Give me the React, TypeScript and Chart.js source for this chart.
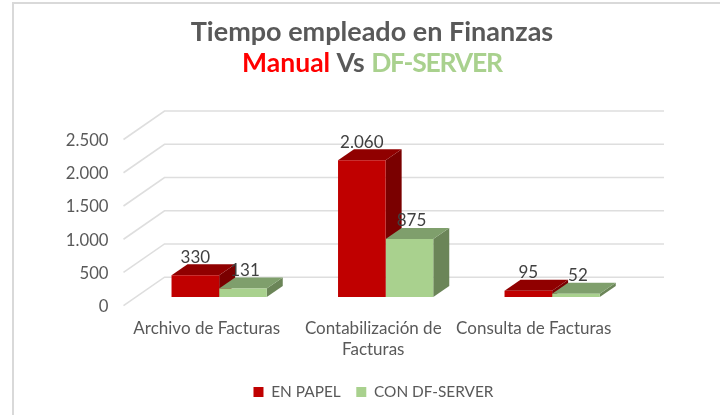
import React, { useEffect, useRef } from "react";
import { Chart, registerables } from "chart.js";

Chart.register(...registerables);

const categories = [["Archivo de Facturas"], ["Contabilización de", "Facturas"], ["Consulta de Facturas"]];
const enPapel = [330, 2060, 95];
const conDfServer = [131, 875, 52];
const valueTicks = [0, 500, 1000, 1500, 2000, 2500];

const FONT = "Lato, 'Open Sans', sans-serif";
const TEXT = "#595959";
const GRID = "#dedede";
const RED = { front: "#c00000", top: "#900000", side: "#7a0000" };
const GREEN = { front: "#a9d18e", top: "#7f9f6c", side: "#6b8558" };

// wall depth (plot front plane to back wall) and bar depth
const WALL = { dx: 41, dy: -28.5 };
const BAR_SHIFT = { dx: 12.4, dy: -8.6 };
const BAR_DEPTH = { dx: 16, dy: -11 };
const LEGEND_SHIFT = 62;
const LAST_LABEL_NUDGE = -6;
const Y_LABEL_NUDGE = 1;
const VALUE_LABEL_NUDGE = [0, 2];

const fmt = (v: number) => String(v).replace(/\B(?=(\d{3})+$)/g, ".");

function poly(ctx: CanvasRenderingContext2D, pts: number[][], fill: string) {
  ctx.fillStyle = fill;
  ctx.beginPath();
  pts.forEach((p, i) => (i ? ctx.lineTo(p[0], p[1]) : ctx.moveTo(p[0], p[1])));
  ctx.closePath();
  ctx.fill();
}

const scene = {
  id: "scene",
  afterLayout(chart: any) {
    chart.legend.left += LEGEND_SHIFT;
    chart.legend.right += LEGEND_SHIFT;
  },
  beforeDraw(chart: any) {
    const { ctx, width, height, chartArea: a, scales } = chart;
    const items = scales.x.getLabelItems(a);
    const last = items[items.length - 1];
    last.options.translation[0] = scales.x.getPixelForTick(items.length - 1) + LAST_LABEL_NUDGE;
    scales.y.getLabelItems(a).forEach((item: any, i: number) => {
      item.options.translation[1] = scales.y.getPixelForTick(i) + Y_LABEL_NUDGE;
    });
    ctx.save();
    ctx.fillStyle = "#fff";
    ctx.fillRect(0, 0, width, height);
    // chart frame
    ctx.strokeStyle = "#d9d9d9";
    ctx.lineWidth = 2;
    ctx.beginPath();
    ctx.moveTo(13, height);
    ctx.lineTo(13, 3);
    ctx.lineTo(width, 3);
    ctx.stroke();
    // walls
    ctx.strokeStyle = GRID;
    ctx.lineWidth = 1.6;
    valueTicks.forEach((v) => {
      const y = scales.y.getPixelForValue(v);
      ctx.beginPath();
      ctx.moveTo(a.left, y);
      ctx.lineTo(a.left + WALL.dx, y + WALL.dy);
      ctx.lineTo(a.right + WALL.dx, y + WALL.dy);
      ctx.stroke();
    });
    // title
    ctx.textBaseline = "middle";
    ctx.textAlign = "left";
    ctx.font = `bold 27px ${FONT}`;
    const cx = 372;
    const first = "Tiempo empleado en Finanzas";
    ctx.fillStyle = TEXT;
    ctx.fillText(first, cx - ctx.measureText(first).width / 2, 32);
    ctx.font = `bold 26.5px ${FONT}`;
    const parts: [string, string, string][] = [
      ["Manual", "#ff0000", "0px"],
      [" Vs ", TEXT, "0px"],
      ["DF-SERVER", GREEN.front, "-1.2px"],
    ];
    const widthOf = (p: [string, string, string]) => {
      (ctx as any).letterSpacing = p[2];
      return ctx.measureText(p[0]).width;
    };
    const total = parts.reduce((s, p) => s + widthOf(p), 0);
    let x = cx - total / 2;
    parts.forEach((p) => {
      const w = widthOf(p);
      ctx.fillStyle = p[1];
      ctx.fillText(p[0], x, 63);
      x += w;
    });
    (ctx as any).letterSpacing = "0px";
    ctx.restore();
  },
  beforeDatasetsDraw(chart: any) {
    const { ctx } = chart;
    ctx.save();
    ctx.translate(BAR_SHIFT.dx, BAR_SHIFT.dy);
    const d = BAR_DEPTH;
    categories.forEach((_, i) => {
      [RED, GREEN].forEach((c, ds) => {
        const b = chart.getDatasetMeta(ds).data[i];
        const l = b.x - b.width / 2;
        const r = b.x + b.width / 2;
        poly(ctx, [[r, b.y], [r + d.dx, b.y + d.dy], [r + d.dx, b.base + d.dy], [r, b.base]], c.side);
        poly(ctx, [[l, b.y], [l + d.dx, b.y + d.dy], [r + d.dx, b.y + d.dy], [r, b.y]], c.top);
      });
    });
  },
  afterDatasetsDraw(chart: any) {
    const { ctx } = chart;
    ctx.restore();
    ctx.save();
    ctx.font = `17px ${FONT}`;
    ctx.fillStyle = "#404040";
    ctx.textAlign = "center";
    ctx.textBaseline = "middle";
    [0, 1].forEach((ds) => {
      chart.getDatasetMeta(ds).data.forEach((b: any, i: number) => {
        const v = chart.data.datasets[ds].data[i];
        ctx.fillText(fmt(v), b.x + BAR_SHIFT.dx + VALUE_LABEL_NUDGE[ds], b.y + BAR_SHIFT.dy - 18);
      });
    });
    ctx.restore();
  },
};

export default function App() {
  const ref = useRef<HTMLCanvasElement>(null);
  useEffect(() => {
    const chart = new Chart(ref.current!, {
      type: "bar",
      data: {
        labels: categories,
        datasets: [
          { label: "EN PAPEL", data: enPapel, backgroundColor: RED.front, clip: false },
          { label: "CON DF-SERVER", data: conDfServer, backgroundColor: GREEN.front, clip: false },
        ],
      },
      plugins: [scene],
      options: {
        animation: false,
        responsive: false,
        layout: { padding: { top: 139.5, bottom: 5.4, left: 0, right: 97 } },
        datasets: { bar: { categoryPercentage: 0.572, barPercentage: 1 } },
        plugins: {
          title: { display: false },
          tooltip: { enabled: false },
          legend: {
            position: "bottom",
            labels: {
              boxWidth: 10,
              boxHeight: 10,
              padding: 15.6,
              color: TEXT,
              font: { family: FONT, size: 15.4 },
            },
          },
        },
        scales: {
          x: {
            grid: { display: false, drawTicks: false },
            border: { display: false },
            ticks: {
              color: TEXT,
              font: { family: FONT, size: 17, lineHeight: 1.24 },
              maxRotation: 0,
              autoSkip: false,
              padding: 12,
            },
            afterFit: (s: any) => {
              s.height = 62.9;
            },
          },
          y: {
            min: 0,
            max: 2500,
            grid: { display: false, drawTicks: false },
            border: { display: false },
            afterFit: (s: any) => {
              s.width = 123.5;
            },
            afterBuildTicks: (s: any) => {
              s.ticks = valueTicks.map((value) => ({ value }));
            },
            ticks: {
              color: TEXT,
              padding: 15,
              font: { family: FONT, size: 16.7 },
              callback: (v: any) => fmt(Number(v)),
            },
          },
        },
      },
    } as any);
    return () => chart.destroy();
  }, []);
  return (
    <div style={{ position: "fixed", left: 0, top: 0, width: 720, height: 415 }}>
      <canvas ref={ref} width={720} height={415} style={{ display: "block" }} />
    </div>
  );
}
